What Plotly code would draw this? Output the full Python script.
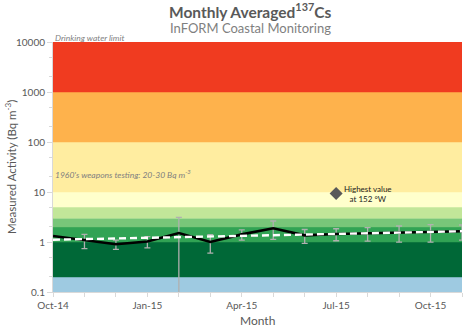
import numpy as np
import plotly.graph_objects as go

# ---- data ----
month_index = list(range(14))  # Oct-14 .. Nov-15
tick_months = [0, 3, 6, 9, 12]
tick_labels = ["Oct-14", "Jan-15", "Apr-15", "Jul-15", "Oct-15"]

monthly_avg = [1.32, 1.08, 0.90, 1.02, 1.51, 1.00, 1.42, 1.88, 1.36, 1.45, 1.49, 1.54, 1.61, 1.64]
monthly_err = [0.0, 0.34, 0.19, 0.26, 1.60, 0.40, 0.33, 0.75, 0.42, 0.39, 0.45, 0.55, 0.62, 0.55]
trend_avg = [1.11, 1.14, 1.18, 1.21, 1.25, 1.29, 1.33, 1.37, 1.41, 1.45, 1.50, 1.54, 1.59, 1.64]

band_edges = [0.1, 0.2, 1, 2, 3, 5, 10, 100, 1000, 10000]
band_colors = ["#9ecae1", "#006837", "#31a354", "#78c679", "#c2e699",
               "#ffffcc", "#ffeda0", "#feb24c", "#f03b20"]

highest_month = [9]
highest_value = [9.3]

y_ticks = [0.1, 1, 10, 100, 1000, 10000]
y_tick_labels = ["0.1", "1", "10", "100", "1000", "10000"]

FONT = "Lato"
GRAY = "#595959"

fig = go.Figure()

x0, x1 = month_index[0], month_index[-1]
for lo, hi, col in zip(band_edges[:-1], band_edges[1:], band_colors):
    fig.add_trace(go.Scatter(
        x=[x0, x1, x1, x0, x0], y=[lo, lo, hi, hi, lo],
        mode="lines", fill="toself", fillcolor=col,
        line=dict(color=col, width=0.5), hoverinfo="skip", showlegend=False))

fig.add_trace(go.Scatter(
    x=month_index, y=monthly_avg, mode="lines",
    line=dict(color="black", width=2.6),
    error_y=dict(type="data", array=monthly_err, color="#b0b0b0", thickness=1.3, width=3),
    showlegend=False))

fig.add_trace(go.Scatter(
    x=month_index, y=trend_avg, mode="lines",
    line=dict(color="white", width=2.4, dash="7px,4px"),
    showlegend=False))

fig.add_trace(go.Scatter(
    x=highest_month, y=highest_value, mode="markers",
    marker=dict(symbol="diamond", size=10, color=GRAY),
    showlegend=False))

L, R, T, B = 53, 12, 42, 35
W, H = 474, 327
pw, ph = W - L - R, H - T - B

def px(xp):
    return (xp - L) / pw

def py(yp):
    return (H - B - yp) / ph

annotations = [
    dict(text="<b>Monthly Averaged<sup>137</sup>Cs</b>", x=px(250), y=py(23), yanchor="bottom",
         font=dict(size=15.5, color=GRAY, family=FONT)),
    dict(text="InFORM Coastal Monitoring", x=px(250), y=py(28.5),
         font=dict(size=13, color="#7f7f7f", family=FONT)),
    dict(text="<i>Drinking water limit</i>", x=px(53), y=py(37.5), xanchor="left",
         font=dict(size=8.5, color="#7f7f7f", family=FONT)),
    dict(text="<i>1960's weapons testing: 20-30 Bq m<sup>-3</sup></i>", x=px(53), y=py(174),
         xanchor="left", font=dict(size=8.5, color="#7f7f7f", family=FONT)),
    dict(text="Measured Activity (Bq m<sup>-3</sup>)", x=px(10), y=py(167), textangle=-90,
         font=dict(size=11.5, color=GRAY, family=FONT)),
    dict(text="Month", x=px(257), y=py(320),
         font=dict(size=12, color=GRAY, family=FONT)),
]
for a in annotations:
    a.update(xref="paper", yref="paper", showarrow=False)
    a.setdefault("xanchor", "center")
    a.setdefault("yanchor", "middle")

annotations.append(dict(
    text="Highest value<br>at 152 °W", x=highest_month[0], y=float(np.log10(highest_value[0])),
    xref="x", yref="y", xanchor="left", yanchor="middle", xshift=6, align="center",
    showarrow=False, font=dict(size=8, color="#222222", family=FONT)))

fig.update_layout(
    width=W, height=H, margin=dict(l=L, r=R, t=T, b=B),
    paper_bgcolor="white", plot_bgcolor="white",
    font=dict(family=FONT, color=GRAY),
    annotations=annotations,
    xaxis=dict(range=[x0, x1], tickvals=tick_months, ticktext=tick_labels,
               showgrid=False, zeroline=False, showline=True, linecolor="#d9d9d9",
               ticks="outside", ticklen=4, tickcolor="#d9d9d9",
               minor=dict(dtick=1, ticks="outside", ticklen=4, tickcolor="#d9d9d9"),
               tickfont=dict(size=10, color=GRAY, family=FONT)),
    yaxis=dict(type="log", range=[-1, 4], tickvals=y_ticks, ticktext=y_tick_labels,
               showgrid=False, zeroline=False, showline=True, linecolor="#d9d9d9",
               ticks="outside", ticklen=5, tickcolor="#d9d9d9",
               minor=dict(ticks="outside", ticklen=3, tickcolor="#d9d9d9", showgrid=False),
               tickfont=dict(size=10, color=GRAY, family=FONT)),
)

fig.write_html("out.html")
